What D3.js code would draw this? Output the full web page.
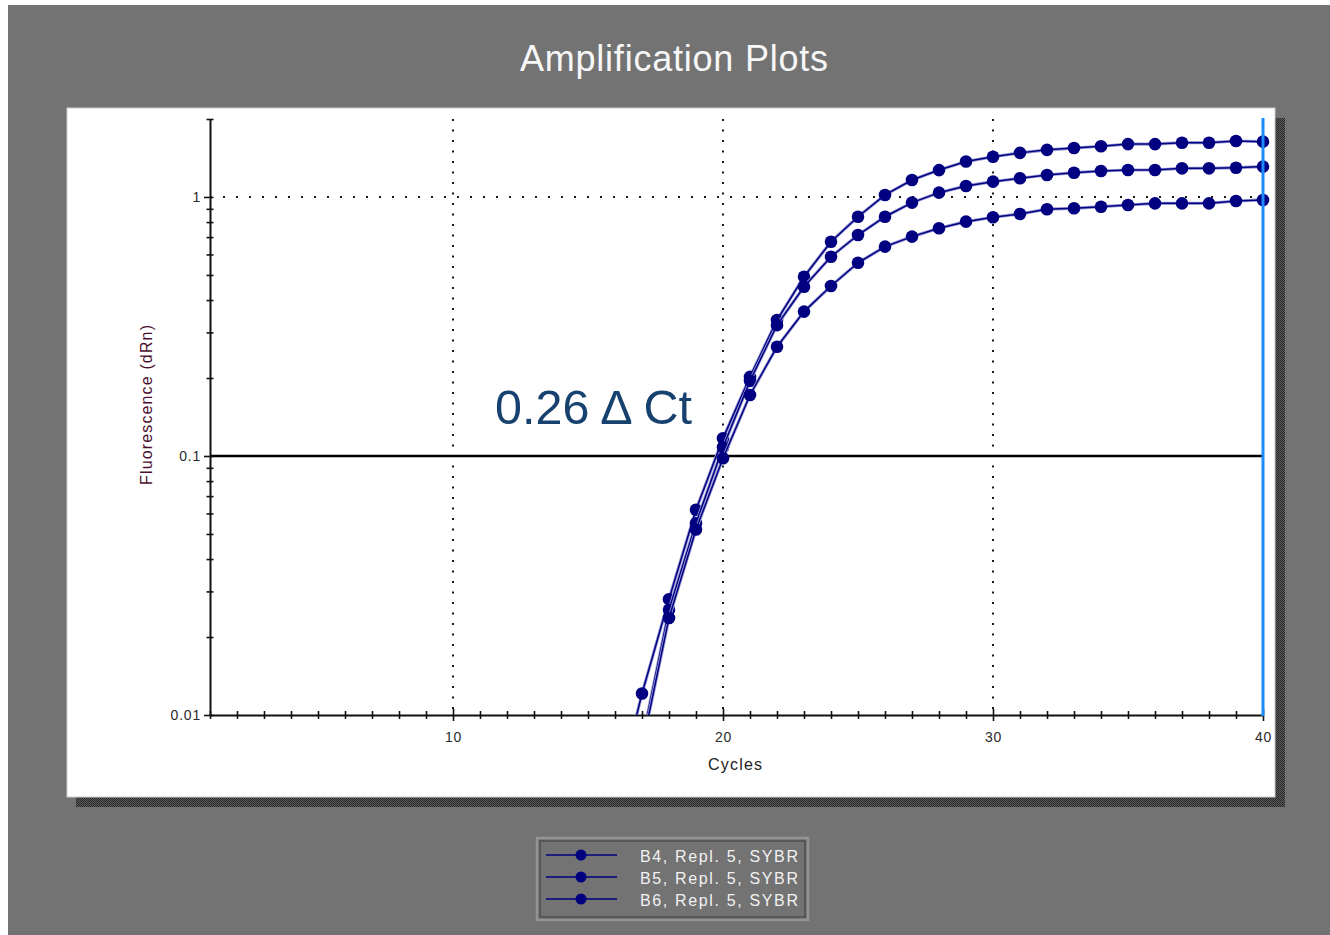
<!DOCTYPE html>
<html>
<head>
<meta charset="utf-8">
<title>Amplification Plots</title>
<script src="https://cdn.jsdelivr.net/npm/d3@7"></script>
<style>
  html, body { margin: 0; padding: 0; background: #ffffff; }
  svg { display: block; }
  text { font-family: "Liberation Sans", Arial, sans-serif; }
</style>
</head>
<body>
<svg id="chart" width="1330" height="935"></svg>
<script>
// ---- data -------------------------------------------------------------
const cycles = [16, 17, 18, 19, 20, 21, 22, 23, 24, 25, 26, 27, 28, 29, 30,
                31, 32, 33, 34, 35, 36, 37, 38, 39, 40];

const seriesNames = ["B4, Repl. 5, SYBR", "B5, Repl. 5, SYBR", "B6, Repl. 5, SYBR"];

// dRn per cycle (null = no reading plotted)
const b4Values = [0.0046, 0.0121, 0.028, 0.062, 0.117, 0.202, 0.335, 0.492, 0.672, 0.839,
                  1.018, 1.163, 1.27, 1.37, 1.43, 1.48, 1.52, 1.545, 1.57, 1.60,
                  1.60, 1.62, 1.62, 1.645, 1.635];
const b5Values = [null, 0.0079, 0.0255, 0.055, 0.108, 0.195, 0.32, 0.45, 0.588, 0.713,
                  0.839, 0.951, 1.039, 1.103, 1.146, 1.181, 1.216, 1.241, 1.26, 1.271,
                  1.271, 1.29, 1.29, 1.297, 1.31];
const b6Values = [null, 0.0075, 0.0237, 0.052, 0.098, 0.172, 0.264, 0.361, 0.453, 0.557,
                  0.643, 0.703, 0.757, 0.803, 0.835, 0.86, 0.897, 0.904, 0.917, 0.931,
                  0.945, 0.945, 0.945, 0.965, 0.974];

const xDomain = [1, 40];
const yDomain = [0.01, 2];
const xLabelTicks = [10, 20, 30, 40];
const yLabelTicks = [0.01, 0.1, 1];
const yTickLabels = ["0.01", "0.1", "1"];
const xGridTicks = [10, 20, 30, 40];
const yGridTicks = [1, 0.1];
const threshold = 0.1;
const endCycle = 40;
const annotation = "0.26 \u0394 Ct";

// ---- layout ------------------------------------------------------------
const svg = d3.select("#chart");
const W = 1330, H = 935;
const plot = { left: 210, right: 1263, top: 119, bottom: 715 };

const x = d3.scaleLinear().domain(xDomain).range([plot.left, plot.right]);
const y = d3.scaleLog().domain(yDomain).range([plot.bottom, plot.top]);

const defs = svg.append("defs");
const dither = defs.append("pattern")
  .attr("id", "dither").attr("width", 2).attr("height", 2)
  .attr("patternUnits", "userSpaceOnUse");
dither.append("rect").attr("width", 2).attr("height", 2).attr("fill", "#5e5e5e");
dither.append("rect").attr("width", 1).attr("height", 1).attr("fill", "#262626");
dither.append("rect").attr("x", 1).attr("y", 1).attr("width", 1).attr("height", 1).attr("fill", "#262626");

defs.append("clipPath").attr("id", "plotClip")
  .append("rect")
  .attr("x", plot.left - 10).attr("y", 108)
  .attr("width", plot.right - plot.left + 20)
  .attr("height", plot.bottom - 108);

// grey window
svg.append("rect").attr("x", 8).attr("y", 5).attr("width", W - 8).attr("height", H - 5)
  .attr("fill", "#737373");

// title
svg.append("text")
  .attr("x", 674).attr("y", 71)
  .attr("text-anchor", "middle")
  .attr("font-size", 36)
  .attr("textLength", 308).attr("lengthAdjust", "spacing")
  .attr("fill", "#f7f7f7")
  .text("Amplification Plots");

// panel shadow + white panel
svg.append("rect").attr("x", 76).attr("y", 118).attr("width", 1209).attr("height", 689)
  .attr("fill", "url(#dither)");
svg.append("rect").attr("x", 67).attr("y", 108).attr("width", 1208).attr("height", 689)
  .attr("fill", "#ffffff").attr("stroke", "#cfcfcf").attr("stroke-width", 1);

// dotted grid
const grid = svg.append("g");
grid.selectAll("line.vgrid").data(xGridTicks).join("line")
  .attr("class", "vgrid")
  .attr("x1", d => x(d)).attr("x2", d => x(d))
  .attr("y1", plot.top).attr("y2", plot.bottom)
  .attr("stroke", "#1a1a1a").attr("stroke-width", 2)
  .attr("stroke-dasharray", "2 8.5");
grid.selectAll("line.hgrid").data(yGridTicks).join("line")
  .attr("class", "hgrid")
  .attr("x1", plot.left).attr("x2", plot.right)
  .attr("y1", d => y(d)).attr("y2", d => y(d))
  .attr("stroke", "#1a1a1a").attr("stroke-width", 2)
  .attr("stroke-dasharray", "2 11");

// threshold
svg.append("line")
  .attr("x1", plot.left).attr("x2", plot.right)
  .attr("y1", y(threshold)).attr("y2", y(threshold))
  .attr("stroke", "#000000").attr("stroke-width", 2.5);

// axes
const allCycles = d3.range(xDomain[0], xDomain[1] + 1);
const xAxis = d3.axisBottom(x)
  .tickValues(allCycles)
  .tickSizeOuter(0)
  .tickFormat(d => xLabelTicks.includes(d) ? String(d) : "");
const gx = svg.append("g").attr("transform", `translate(0,${plot.bottom})`).call(xAxis);
gx.select(".domain").attr("stroke", "#111").attr("stroke-width", 2);
gx.selectAll(".tick line")
  .attr("y1", d => xLabelTicks.includes(d) ? -6 : -4)
  .attr("y2", d => xLabelTicks.includes(d) ? 6 : 4)
  .attr("stroke", "#111").attr("stroke-width", 1.6);
gx.selectAll(".tick text")
  .attr("y", 17)
  .attr("font-size", 14).attr("letter-spacing", 0.6)
  .attr("font-family", "Liberation Sans, Arial, sans-serif")
  .attr("fill", "#2b2b2b");

const yMinor = [];
[0.01, 0.1, 1].forEach(dec => d3.range(1, 10).forEach(m => {
  const v = +(dec * m).toPrecision(3);
  if (v <= yDomain[1]) yMinor.push(v);
}));
const yAxis = d3.axisLeft(y)
  .tickValues(yMinor)
  .tickSizeOuter(0)
  .tickFormat(d => {
    const i = yLabelTicks.indexOf(d);
    return i >= 0 ? yTickLabels[i] : "";
  });
const gy = svg.append("g").attr("transform", `translate(${plot.left},0)`).call(yAxis);
gy.select(".domain").attr("stroke", "#111").attr("stroke-width", 2);
gy.selectAll(".tick line")
  .attr("x1", d => yLabelTicks.includes(d) ? -6 : -3.5)
  .attr("x2", 3.5)
  .attr("stroke", "#111").attr("stroke-width", 1.6);
gy.selectAll(".tick text")
  .attr("x", -9)
  .attr("font-size", 14).attr("letter-spacing", 0.8)
  .attr("font-family", "Liberation Sans, Arial, sans-serif")
  .attr("fill", "#2b2b2b");

// axis titles
svg.append("text")
  .attr("x", 735).attr("y", 770)
  .attr("text-anchor", "middle")
  .attr("font-size", 16)
  .attr("textLength", 54).attr("lengthAdjust", "spacing")
  .attr("fill", "#222")
  .text("Cycles");
svg.append("text")
  .attr("transform", "translate(152,405) rotate(-90)")
  .attr("text-anchor", "middle")
  .attr("font-size", 16)
  .attr("textLength", 160).attr("lengthAdjust", "spacing")
  .attr("fill", "#4a0f2e")
  .text("Fluorescence (dRn)");

// curves
const series = [b4Values, b5Values, b6Values].map((vals, i) => ({
  name: seriesNames[i],
  points: cycles.map((c, j) => ({ c, v: vals[j] }))
}));

const line = d3.line()
  .defined(d => d.v != null)
  .x(d => x(d.c))
  .y(d => y(d.v));

const curves = svg.append("g").attr("clip-path", "url(#plotClip)");
const sg = curves.selectAll("g.series").data(series).join("g").attr("class", "series");
sg.append("path")
  .attr("d", d => line(d.points))
  .attr("fill", "none").attr("stroke", "#9a9ad6").attr("stroke-width", 3.2);
sg.append("path")
  .attr("d", d => line(d.points))
  .attr("fill", "none").attr("stroke", "#000080").attr("stroke-width", 1.5);
sg.selectAll("circle")
  .data(d => d.points.filter(p => p.v != null))
  .join("circle")
  .attr("cx", p => x(p.c)).attr("cy", p => y(p.v))
  .attr("r", 6.3)
  .attr("fill", "#000080");

// end-of-run marker line
svg.append("line")
  .attr("x1", x(endCycle)).attr("x2", x(endCycle))
  .attr("y1", plot.top - 1).attr("y2", plot.bottom + 1)
  .attr("stroke", "#1a8cff").attr("stroke-width", 3);

// delta Ct annotation
svg.append("text")
  .attr("x", 495).attr("y", 424)
  .attr("font-size", 48.5)
  .attr("fill", "#17416e")
  .text(annotation);

// legend
const lg = svg.append("g");
lg.append("rect").attr("x", 537).attr("y", 838).attr("width", 271).attr("height", 82)
  .attr("fill", "#737373").attr("stroke", "#939393").attr("stroke-width", 2.5);
lg.append("rect").attr("x", 540).attr("y", 841).attr("width", 265).attr("height", 76)
  .attr("fill", "none").attr("stroke", "#3d3d3d").attr("stroke-width", 1);
const rowY = d3.scalePoint().domain(seriesNames).range([855, 899]);
const rows = lg.selectAll("g.row").data(seriesNames).join("g").attr("class", "row")
  .attr("transform", d => `translate(0,${rowY(d)})`);
rows.append("line").attr("x1", 546).attr("x2", 617).attr("y1", 0).attr("y2", 0)
  .attr("stroke", "#000080").attr("stroke-width", 1.6);
rows.append("circle").attr("cx", 581).attr("cy", 0).attr("r", 5.5).attr("fill", "#000080");
rows.append("text").attr("x", 640).attr("y", 7)
  .attr("font-size", 16)
  .attr("font-family", "DejaVu Sans, Verdana, sans-serif")
  .attr("textLength", 158).attr("lengthAdjust", "spacing")
  .attr("fill", "#f2f2f2")
  .text(d => d);
</script>
</body>
</html>
